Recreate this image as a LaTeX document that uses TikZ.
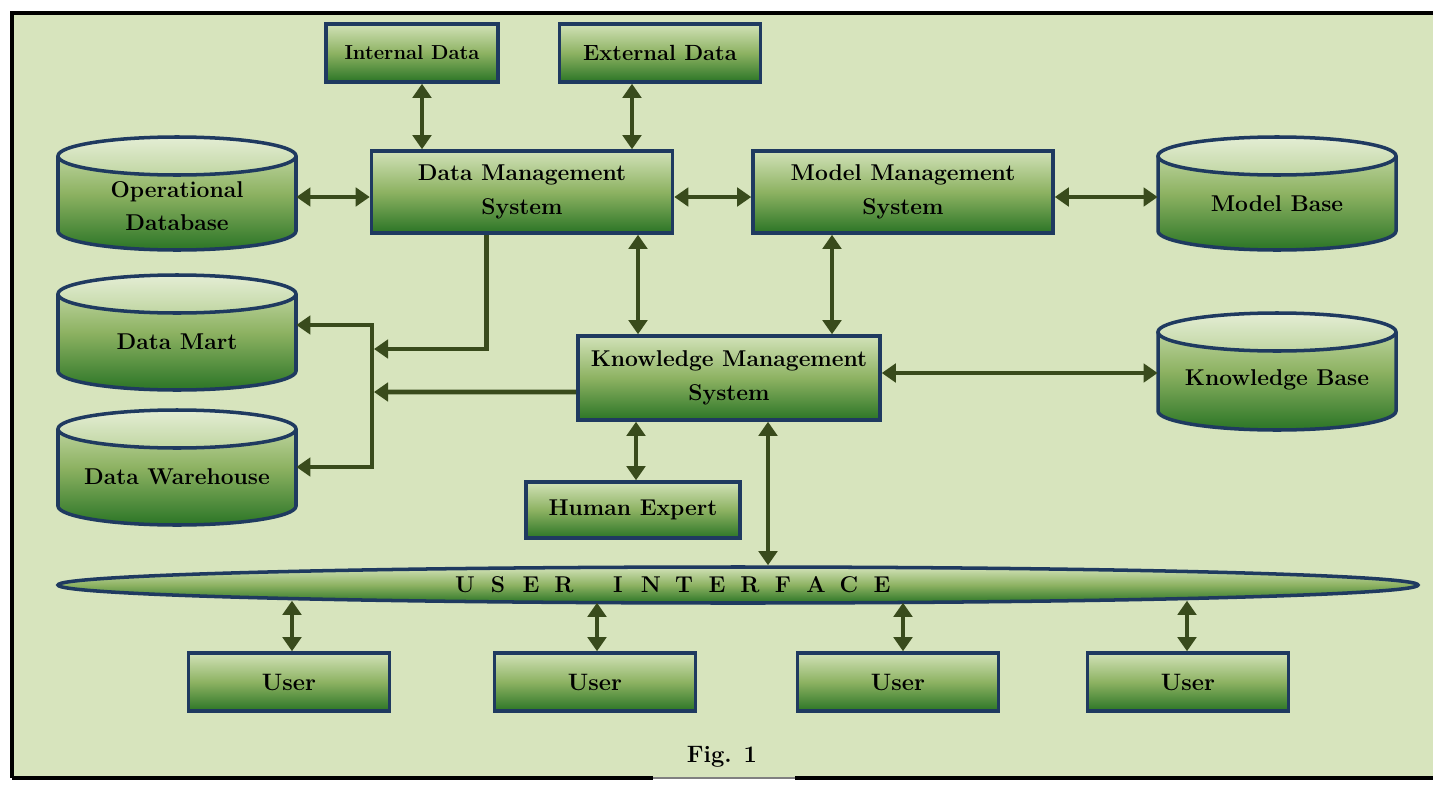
\documentclass[tikz,border=0pt]{standalone}
\usetikzlibrary{shapes.geometric,arrows.meta}
\definecolor{panel}{HTML}{D7E4BD}
\definecolor{rim}{HTML}{1F3A60}
\definecolor{shtop}{HTML}{D2E2B8}
\definecolor{shmid}{HTML}{8DB262}
\definecolor{shbot}{HTML}{2B7526}
\definecolor{wire}{HTML}{394B1C}
\newcommand\spreadch[1]{\makebox[6.6mm]{#1}}

\begin{document}
\begin{tikzpicture}[x=0.2mm,y=-0.2mm,
	box/.style={draw=rim, line width=2pt, top color=shtop, bottom color=shbot, middle color=shmid,
		font=\bfseries\fontsize{13}{19}\selectfont, align=center, inner sep=0pt},
	drumtext/.style={minimum width=47.6mm, inner sep=0pt, align=center,
		font=\bfseries\fontsize{13}{19}\selectfont},
	userbox/.style={box, minimum width=40.2mm, minimum height=11.6mm,
		font=\bfseries\fontsize{13.5}{15}\selectfont},
	biarrow/.style={{Triangle[width=10.5pt,length=8pt]}-{Triangle[width=10.5pt,length=8pt]}, line width=2.6pt, draw=wire},
	onearrow/.style={-{Triangle[width=10.5pt,length=8pt]}, line width=2.6pt, draw=wire}]
	\useasboundingbox (0,0) rectangle (1433,786);
	\fill[white] (0,0) rectangle (1433,786);
	\fill[panel] (12,13) rectangle (1433,778);
	\draw[line width=2pt] (12,778) -- (12,13) -- (1433,13);
	\draw[line width=2pt] (12,778) -- (653,778);
	\draw[line width=2pt] (795,778) -- (1433,778);
	\draw[gray, line width=1pt] (653,778) -- (795,778);

	\foreach \cx/\yt/\yb in {177/137/250, 177/275/390, 177/410/525, 1277/137/250, 1277/313/430} {
		\shade[top color=shtop, bottom color=shbot, middle color=shmid]
			(\cx-119,\yt+19) -- (\cx-119,\yb-19) arc[start angle=180, end angle=360, x radius=23.8mm, y radius=3.8mm]
			-- (\cx+119,\yt+19) arc[start angle=0, end angle=180, x radius=23.8mm, y radius=3.8mm] -- cycle;
		\shade[top color=shtop!60!white, bottom color=shtop!75!shmid]
			(\cx,\yt+19) ellipse[x radius=23.8mm, y radius=3.8mm];
		\draw[rim, line width=2pt]
			(\cx-119,\yt+19) -- (\cx-119,\yb-19) arc[start angle=180, end angle=360, x radius=23.8mm, y radius=3.8mm]
			-- (\cx+119,\yt+19);
		\draw[rim, line width=2pt] (\cx,\yt+19) ellipse[x radius=23.8mm, y radius=3.8mm];
	}

	\node[box, minimum width=34.4mm, minimum height=11.6mm, font=\bfseries\fontsize{11.5}{13}\selectfont] (intdata) at (412,53) {Internal Data};
	\node[box, minimum width=40.2mm, minimum height=11.6mm, font=\bfseries\fontsize{12.5}{14}\selectfont] (extdata) at (660,53) {External Data};
	\node[box, minimum width=60.2mm, minimum height=16.4mm] (dms) at (522,192) {Data Management\\System};
	\node[box, minimum width=60mm, minimum height=16.4mm] (mms) at (903,192) {Model Management\\System};
	\node[box, minimum width=60.4mm, minimum height=16.8mm] (kms) at (729,378) {Knowledge Management\\System};
	\node[box, minimum width=42.8mm, minimum height=11.2mm] (human) at (633,510) {Human Expert};

	\node[drumtext] (opdb) at (177,206) {Operational\\Database};
	\node[drumtext] (dmart) at (177,342) {Data Mart};
	\node[drumtext] (dwh) at (177,477) {Data Warehouse};
	\node[drumtext] (mbase) at (1277,204) {Model Base};
	\node[drumtext] (kbase) at (1277,380) {Knowledge Base};

	\node[ellipse, draw=rim, line width=2pt, top color=shtop, bottom color=shbot, middle color=shmid,
		minimum width=272mm, minimum height=7.2mm, inner sep=0pt,
		font=\bfseries\fontsize{13}{15}\selectfont] (ui) at (738,585)
		{\spreadch{U}\spreadch{S}\spreadch{E}\spreadch{R}\hspace{4.2mm}\spreadch{I}\spreadch{N}\spreadch{T}\spreadch{E}\spreadch{R}\spreadch{F}\spreadch{A}\spreadch{C}\spreadch{E}\hspace{25.8mm}\null};

	\node[userbox] (user1) at (289,682) {User};
	\node[userbox] (user2) at (595,682) {User};
	\node[userbox] (user3) at (898,682) {User};
	\node[userbox] (user4) at (1188,682) {User};

	\node[font=\bfseries\fontsize{13.5}{15}\selectfont] (fig) at (722,757) {Fig. 1};

	\coordinate (bustop) at (372,325);
	\coordinate (busbot) at (372,467);
	\coordinate (jdms) at (374,349);
	\coordinate (jkms) at (374,392);

	\draw[biarrow] ([xshift=2mm]intdata.south) -- ([xshift=2mm]intdata.south |- dms.north);
	\draw[biarrow] ([xshift=-5.6mm]extdata.south) -- ([xshift=-5.6mm]extdata.south |- dms.north);
	\draw[biarrow] ([yshift=-1mm]dms.west -| opdb.east) -- ([yshift=-1mm]dms.west);
	\draw[biarrow] ([yshift=-1mm]dms.east) -- ([yshift=-1mm]mms.west);
	\draw[biarrow] ([yshift=-1mm]mms.east) -- ([yshift=-1mm]mms.east -| mbase.west);
	\draw[biarrow] ([xshift=-18.2mm]kms.north) -- ([xshift=-18.2mm]kms.north |- dms.south);
	\draw[biarrow] ([xshift=20.6mm]kms.north) -- ([xshift=20.6mm]kms.north |- mms.south);
	\draw[biarrow] ([yshift=1mm]kms.east) -- ([yshift=1mm]kms.east -| kbase.west);
	\draw[biarrow] ([xshift=0.6mm]human.north) -- ([xshift=0.6mm]human.north |- kms.south);
	\draw[biarrow] ([xshift=7.8mm]kms.south) -- ([xshift=7.8mm]kms.south |- ui.north);
	\draw[biarrow] ([xshift=0.6mm]user1.north) -- ([xshift=0.6mm,yshift=0.8mm]user1.north |- ui.south);
	\draw[biarrow] ([xshift=0.4mm]user2.north) -- ([xshift=0.4mm,yshift=0.4mm]user2.north |- ui.south);
	\draw[biarrow] ([xshift=1mm]user3.north) -- ([xshift=1mm,yshift=0.4mm]user3.north |- ui.south);
	\draw[biarrow] ([xshift=-0.2mm]user4.north) -- ([xshift=-0.2mm,yshift=0.8mm]user4.north |- ui.south);

	\draw[onearrow] ([xshift=-7.1mm]dms.south) |- (jdms);
	\draw[onearrow] ([yshift=-2.8mm]kms.west) -- (jkms);
	\draw[biarrow] (dmart.east |- bustop) -- (bustop) -- (busbot) -- (dwh.east |- busbot);
\end{tikzpicture}
\end{document}
